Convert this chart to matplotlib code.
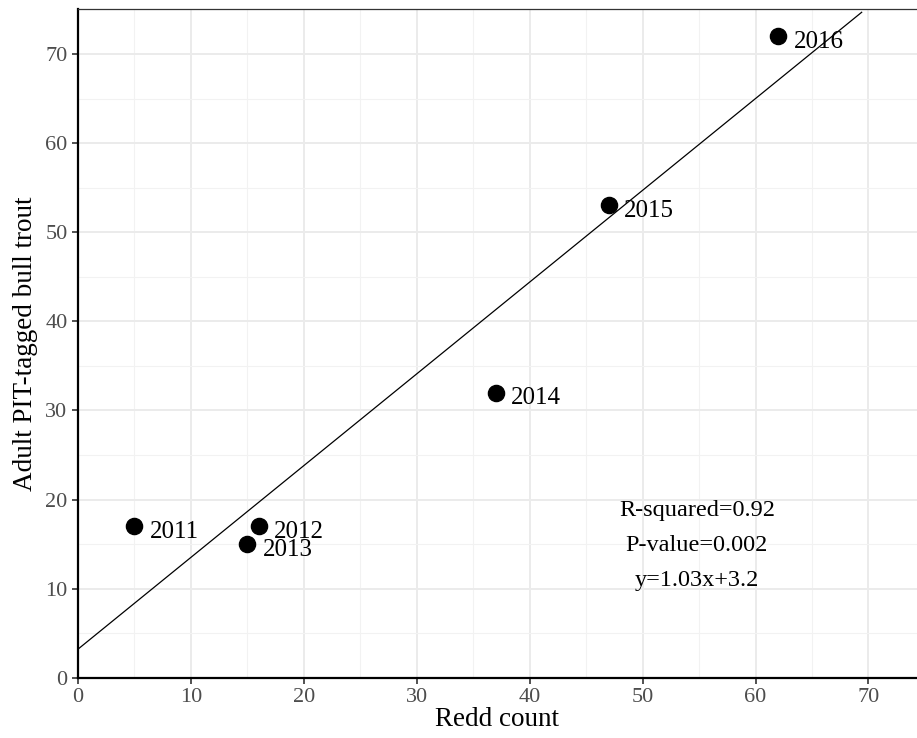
import numpy as np
import matplotlib.pyplot as plt
from matplotlib.ticker import MultipleLocator

plt.rcParams["font.family"] = ["Liberation Serif", "DejaVu Serif"]

# data
years = ["2011", "2012", "2013", "2014", "2015", "2016"]
redds = [5, 16, 15, 37, 47, 62]
fish = [17, 17, 15, 32, 53, 72]
slope = 1.03
intercept = 3.2
stats_text = ["R-squared=0.92", "P-value=0.002", "y=1.03x+3.2"]

fig = plt.figure(figsize=(9.17, 7.38), dpi=100)
ax = fig.add_axes([0.085, 0.0817, 0.915, 0.9055])

ax.set_xlim(0, 74.3)
ax.set_ylim(0, 75)

# ggplot-ish grid
ax.xaxis.set_major_locator(MultipleLocator(10))
ax.yaxis.set_major_locator(MultipleLocator(10))
ax.xaxis.set_minor_locator(MultipleLocator(5))
ax.yaxis.set_minor_locator(MultipleLocator(5))
ax.grid(which="major", color="#EBEBEB", lw=1.4, zorder=0)
ax.grid(which="minor", color="#F2F2F2", lw=0.8, zorder=0)
ax.set_axisbelow(True)

# fit line
xl = np.array([0, 69.4])
ax.plot(xl, slope * xl + intercept, color="black", lw=0.9, zorder=2)

ax.scatter(redds, fish, s=135, color="black", zorder=3)
for x, y, lab in zip(redds, fish, years):
    ax.annotate(lab, (x, y), xytext=(11, -4), textcoords="offset points",
                va="center", ha="left", fontsize=18, color="black")

for i, t in enumerate(stats_text):
    ax.text(54.8, 18.8 - i * 3.95, t, ha="center", va="center", fontsize=17.5)

for side in ["right"]:
    ax.spines[side].set_visible(False)
ax.spines["top"].set_color("#333333")
ax.spines["top"].set_linewidth(0.9)
for side in ["left", "bottom"]:
    ax.spines[side].set_color("black")
    ax.spines[side].set_linewidth(1.6)

ax.tick_params(which="major", length=4, width=1.2, color="#333333",
               labelsize=16, labelcolor="#4D4D4D")
ax.tick_params(which="minor", length=0)

ax.set_xlabel("Redd count", fontsize=19.5, labelpad=0)
ax.set_ylabel("Adult PIT-tagged bull trout", fontsize=19.5, labelpad=5)

fig.savefig("out.png", dpi=100)
